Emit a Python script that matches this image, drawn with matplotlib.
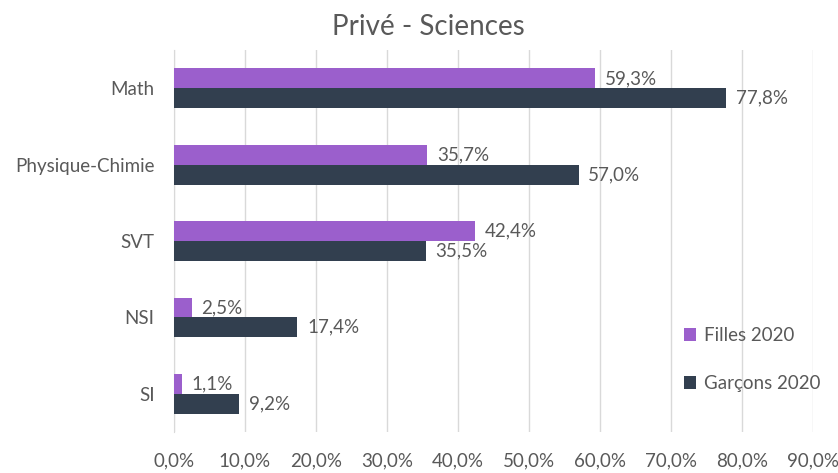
import numpy as np
import matplotlib.pyplot as plt
from matplotlib.ticker import FuncFormatter

categories = ['Math', 'Physique-Chimie', 'SVT', 'NSI', 'SI']
filles_2020 = [59.3, 35.7, 42.4, 2.5, 1.1]
garcons_2020 = [77.8, 57.0, 35.5, 17.4, 9.2]
xticks = [0, 10, 20, 30, 40, 50, 60, 70, 80, 90]

plt.rcParams['font.family'] = ['Lato', 'DejaVu Sans']
text_col = '#595959'
purple = '#9b5fcc'
dark = '#323f4f'

fig = plt.figure(figsize=(8.38, 4.73), dpi=100)
ax = fig.add_axes([0.2076, 0.0867, 0.7624, 0.8073])

y = np.arange(len(categories))
h = 0.26
b1 = ax.barh(y - h / 2, filles_2020, height=h, color=purple, label='Filles 2020', zorder=3)
b2 = ax.barh(y + h / 2, garcons_2020, height=h, color=dark, label='Garçons 2020', zorder=3)

fmt = lambda v: f'{v:.1f}%'.replace('.', ',')
for bars, vals in ((b1, filles_2020), (b2, garcons_2020)):
    for bar, v in zip(bars, vals):
        ax.annotate(fmt(v), (v, bar.get_y() + bar.get_height() / 2),
                    xytext=(7, 0), textcoords='offset points',
                    va='center', ha='left', fontsize=13.5, color=text_col)

ax.set_xlim(0, 90)
ax.set_ylim(len(categories) - 0.5, -0.5)
ax.set_yticks(y)
ax.set_yticklabels(categories)
ax.set_xticks(xticks)
ax.xaxis.set_major_formatter(FuncFormatter(lambda v, p: f'{v:.1f}%'.replace('.', ',')))
ax.tick_params(axis='both', length=0, labelsize=13.5, colors=text_col)
ax.tick_params(axis='x', pad=15)
ax.tick_params(axis='y', pad=14)
ax.grid(axis='x', color='#d9d9d9', linewidth=1, zorder=0)
for s in ('top', 'right', 'bottom'):
    ax.spines[s].set_visible(False)
ax.spines['left'].set_color('#d9d9d9')

fig.text(0.511, 0.943, 'Privé - Sciences', fontsize=20, color=text_col,
         ha='center', va='center')

leg = ax.legend(loc='lower right', bbox_to_anchor=(1.038, 0.06), frameon=False,
                fontsize=13.5, labelspacing=1.65, handlelength=0.65, handleheight=0.65,
                handletextpad=0.4)
for t in leg.get_texts():
    t.set_color(text_col)

fig.savefig('out.png', dpi=100)
